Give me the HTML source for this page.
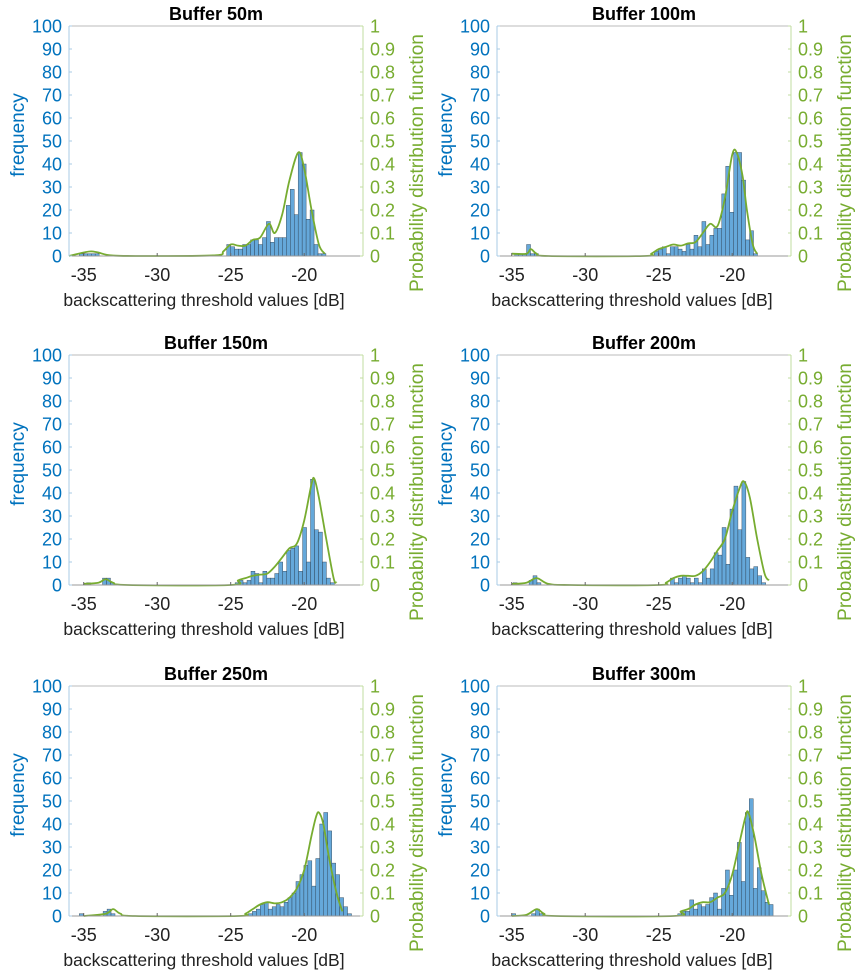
<!DOCTYPE html>
<html><head><meta charset="utf-8">
<style>
html,body{margin:0;padding:0;background:#fff;}
svg{display:block;font-family:"Liberation Sans",sans-serif;}
</style></head>
<body>
<svg id="fig" width="861" height="976" viewBox="0 0 861 976" xmlns="http://www.w3.org/2000/svg"></svg>
<script>
// ---- data ----
const titles = ["Buffer 50m","Buffer 100m","Buffer 150m","Buffer 200m","Buffer 250m","Buffer 300m"];
const binWidth = 0.27;
const mainStart = [-25.27,-25.3,-24.7,-24.2,-23.8,-23.7];
const mainCounts = [
 [5,4,3,3,5,5,7,7,5,8,15,6,8,8,8,22,29,18,45,40,16,20,5,1,1],
 [2,3,4,1,4,4,3,2,5,3,9,4,15,5,9,12,12,27,39,19,45,45,33,7,11,1],
 [1,2,1,2,6,5,1,6,3,3,5,10,6,15,16,17,6,25,10,46,24,23,10,3,1],
 [3,1,3,4,3,1,3,1,7,3,7,14,13,25,9,33,43,24,45,12,7,8,4,1],
 [1,2,3,5,6,3,4,5,4,6,8,10,15,18,22,24,13,25,40,45,37,23,18,8,4,1],
 [1,2,2,7,3,5,4,5,8,10,3,12,20,9,20,32,15,45,51,12,21,11,6,5]
];
const lowStart = [-35.3,-34.8,-34.8,-34.9,-35.3,-35.0];
const lowCounts = [
 [1,1,1,1,1],
 [1,1,1,5,1,1],
 [1,0,0,0,3,3,1],
 [1,0,0,0,2,4,1],
 [1,0,0,0,0,0,2,3,1],
 [1,0,0,0,0,1,3,1]
];
const pdfX = [
 [-36,-35,-34.5,-34,-33,-30,-26,-25.5,-25,-24.5,-24,-23.5,-23,-22.4,-22,-21.5,-21,-20.4,-20,-19.5,-19,-18.6],
 [-35,-34,-33.7,-33.3,-32.5,-26,-25.5,-25,-24.5,-24,-23.5,-23,-22.5,-22,-21.5,-21,-20.5,-20,-19.7,-19.3,-19,-18.6,-18.3],
 [-35,-34,-33.5,-33,-32,-25,-24.5,-24,-23.5,-23,-22.5,-22,-21.5,-21,-20.5,-20,-19.5,-19.3,-19,-18.5,-18,-17.8],
 [-35,-34,-33.3,-32.5,-31,-25,-24.5,-24,-23.5,-23,-22.5,-22,-21.5,-21,-20.5,-20,-19.5,-19.2,-18.8,-18.3,-17.8,-17.5],
 [-35,-33.5,-33,-32.5,-31.5,-24.5,-24,-23.5,-23,-22.5,-22,-21.5,-21,-20.5,-20,-19.5,-19.2,-19,-18.7,-18.3,-17.8,-17.4],
 [-35,-34,-33.3,-32.8,-32,-24,-23.5,-23,-22.5,-22,-21.5,-21,-20.5,-20,-19.5,-19.1,-18.9,-18.5,-18,-17.5]
];
const pdfY = [
 [0,0.015,0.02,0.015,0.002,0,0.003,0.02,0.05,0.045,0.045,0.07,0.08,0.14,0.10,0.18,0.33,0.45,0.38,0.2,0.05,0.01],
 [0.01,0.01,0.03,0.01,0,0,0.01,0.03,0.04,0.05,0.045,0.055,0.06,0.1,0.14,0.13,0.25,0.44,0.45,0.35,0.2,0.05,0.01],
 [0.005,0.01,0.025,0.01,0,0,0.02,0.03,0.04,0.045,0.05,0.08,0.12,0.16,0.18,0.28,0.44,0.46,0.38,0.2,0.03,0.01],
 [0.005,0.01,0.03,0.005,0,0,0.01,0.03,0.04,0.04,0.04,0.06,0.1,0.15,0.2,0.32,0.42,0.45,0.38,0.2,0.05,0.02],
 [0,0.01,0.03,0.01,0,0,0.01,0.03,0.05,0.06,0.055,0.06,0.08,0.12,0.2,0.35,0.43,0.45,0.4,0.25,0.1,0.02],
 [0,0.005,0.03,0.01,0,0,0.02,0.03,0.05,0.06,0.06,0.08,0.1,0.18,0.32,0.43,0.45,0.35,0.18,0.05]
];
const xTicks = [-35,-30,-25,-20];
const yTicks = [0,10,20,30,40,50,60,70,80,90,100];
const y2Ticks = ["0","0.1","0.2","0.3","0.4","0.5","0.6","0.7","0.8","0.9","1"];

// ---- layout ----
const colX = [69,497], plotW = 294;
const rowY = [26,355,686], plotH = 230;
const xMin=-36, xMax=-16;
const BLUE="#0072BD", GREEN="#77AC30";
const svg=document.getElementById('fig');
const NS="http://www.w3.org/2000/svg";
function mk(tag,attrs,parent){const e=document.createElementNS(NS,tag);for(const k in attrs)e.setAttribute(k,attrs[k]);(parent||svg).appendChild(e);return e;}

for(let p=0;p<6;p++){
  const L=colX[p%2], T=rowY[Math.floor(p/2)], R=L+plotW, B=T+plotH;
  const sx=v=>L+(v-xMin)/(xMax-xMin)*plotW;
  const sy=v=>B-v/100*plotH;
  const sy2=v=>B-v*plotH;
  const g=mk('g',{});
  
  
  const t=mk('text',{x:(L+R)/2,y:T-6,'text-anchor':'middle','font-size':'18','font-weight':'bold',fill:'#000'},g);
  t.textContent=titles[p];
  
  
  mk('line',{x1:L,y1:T,x2:R,y2:T,stroke:'#bbb','stroke-width':1},g);
  const bars=mk('g',{},g);
  
  
  [[mainStart[p],mainCounts[p]],[lowStart[p],lowCounts[p]]].forEach(([st,arr])=>{
    arr.forEach((c,i)=>{
      if(c<=0)return;
      const x0=sx(st+i*binWidth), x1=sx(st+(i+1)*binWidth);
      const r=mk('rect',{x:x0,y:sy(c),width:x1-x0,height:B-sy(c),fill:'#65a8da',stroke:'#2a3a4a','stroke-width':0.4},bars);
      
      
    });
  });
  const pts=pdfX[p].map((v,i)=>[sx(v),sy2(pdfY[p][i])]);
  let d='M'+pts[0][0]+','+pts[0][1];
  for(let i=0;i<pts.length-1;i++){
    const p0=pts[Math.max(0,i-1)],p1=pts[i],p2=pts[i+1],p3=pts[Math.min(pts.length-1,i+2)];
    const c1=[p1[0]+(p2[0]-p0[0])/6,p1[1]+(p2[1]-p0[1])/6];
    const c2=[p2[0]-(p3[0]-p1[0])/6,p2[1]-(p3[1]-p1[1])/6];
    d+=' C'+c1[0]+','+c1[1]+' '+c2[0]+','+c2[1]+' '+p2[0]+','+p2[1];
  }
  const pl=mk('path',{d:d,fill:'none',stroke:GREEN,'stroke-width':1.8},g);
  
  
  mk('line',{x1:L,y1:B,x2:R,y2:B,stroke:'#999','stroke-width':1},g);
  mk('line',{x1:L,y1:T,x2:L,y2:B,stroke:'#a9cbe6','stroke-width':1},g);
  mk('line',{x1:R,y1:T,x2:R,y2:B,stroke:'#c2dca0','stroke-width':1},g);
  yTicks.forEach(v=>{
    mk('line',{x1:L,y1:sy(v),x2:L+3,y2:sy(v),stroke:'#a9cbe6'},g);
    const tx=mk('text',{x:L-7,y:sy(v)+6.5,'text-anchor':'end','font-size':'18',fill:BLUE},g);
    tx.textContent=v;
    
    
  });
  y2Ticks.forEach((s,i)=>{
    const y=sy2(i/10);
    mk('line',{x1:R,y1:y,x2:R-3,y2:y,stroke:'#c2dca0'},g);
    const tx=mk('text',{x:R+7,y:y+6.5,'font-size':'18',fill:GREEN},g);
    tx.textContent=s;
    
    
  });
  xTicks.forEach(v=>{
    mk('line',{x1:sx(v),y1:B,x2:sx(v),y2:B-3,stroke:'#666'},g);
    const tx=mk('text',{x:sx(v),y:B+25,'text-anchor':'middle','font-size':'18',fill:'#222'},g);
    tx.textContent=v;
    
    
  });
  const xl=mk('text',{x:(L+R)/2-12,y:B+50,'text-anchor':'middle','font-size':'17.5',fill:'#222'},g);
  xl.textContent='backscattering threshold values [dB]';
  
  
  const yl=mk('text',{x:0,y:0,'text-anchor':'middle','font-size':'19',fill:BLUE,transform:'translate('+(L-45)+','+(T+plotH/2-6)+') rotate(-90)'},g);
  yl.textContent='frequency';
  
  
  const y2l=mk('text',{x:0,y:0,'text-anchor':'middle','font-size':'19',fill:GREEN,transform:'translate('+(R+60)+','+(T+plotH/2+22)+') rotate(-90)'},g);
  y2l.textContent='Probability distribution function';
  
  
}
</script>
</body></html>
